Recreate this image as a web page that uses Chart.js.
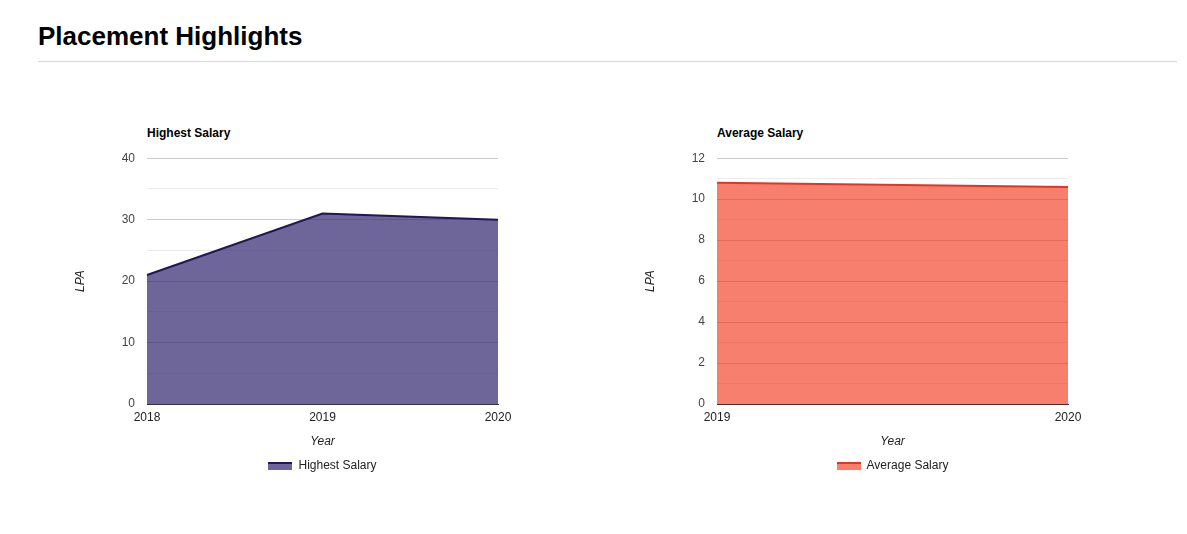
<!DOCTYPE html>
<html>
<head>
<meta charset="utf-8">
<script src="https://cdn.jsdelivr.net/npm/chart.js@4.4.1/dist/chart.umd.min.js"></script>
<style>
  html, body { margin: 0; padding: 0; background: #fff; width: 1187px; height: 534px; overflow: hidden; font-family: "Liberation Sans", Arial, sans-serif; }
  h1 { position: absolute; left: 38px; top: 21px; margin: 0; font-size: 26px; font-weight: bold; color: #000; }
  .hr { position: absolute; left: 38px; top: 61px; width: 1139px; height: 1px; background: #d9d6d6; }
  .ctitle { position: absolute; font-size: 12px; font-weight: bold; color: #000; }
  .wrap { position: absolute; width: 525px; height: 343px; }
</style>
</head>
<body>
<h1>Placement Highlights</h1>
<div class="hr"></div>
<div class="ctitle" style="left:147px; top:126px;">Highest Salary</div>
<div class="ctitle" style="left:717px; top:126px;">Average Salary</div>
<div class="wrap" style="left:60px; top:139px;"><canvas id="c1"></canvas></div>
<div class="wrap" style="left:630px; top:139px;"><canvas id="c2"></canvas></div>
<script>
const highestYears = ['2018', '2019', '2020'];
const highestSalary = [21, 31, 30];
const averageYears = ['2019', '2020'];
const averageSalary = [10.8, 10.6];

Chart.defaults.font.family = '"Liberation Sans", Arial, sans-serif';
Chart.defaults.color = '#222';

function legendIcon(lineColor, fillColor) {
  const c = document.createElement('canvas');
  c.width = 24; c.height = 8;
  const g = c.getContext('2d');
  g.fillStyle = fillColor;
  g.fillRect(0, 0, 24, 8);
  g.fillStyle = lineColor;
  g.fillRect(0, 0, 24, 2);
  return c;
}

function makeChart(id, labels, values, name, lineColor, fillColor, yMax, minorStep, majorStep) {
  new Chart(document.getElementById(id), {
    type: 'line',
    data: {
      labels: labels,
      datasets: [{
        label: name,
        data: values,
        borderColor: lineColor,
        backgroundColor: fillColor,
        fill: 'origin',
        borderWidth: 2,
        pointRadius: 0,
        pointStyle: legendIcon(lineColor, fillColor),
        tension: 0
      }]
    },
    options: {
      responsive: true,
      maintainAspectRatio: false,
      animation: false,
      layout: { padding: { top: 9, right: 0, left: 0, bottom: 0 } },
      plugins: {
        legend: {
          position: 'bottom',
          labels: { usePointStyle: true, pointStyleWidth: 24, font: { size: 12 }, color: '#222', padding: 11 }
        },
        title: { display: false },
        tooltip: { enabled: false }
      },
      scales: {
        x: {
          offset: false,
          grid: { display: false, drawTicks: false },
          border: { display: true, color: '#333', width: 1 },
          ticks: { font: { size: 12 }, color: '#222', padding: 6, maxRotation: 0 },
          title: { display: true, text: 'Year', font: { size: 12, style: 'italic' }, color: '#222', padding: { top: 6, bottom: 0 } },
          afterFit: s => { s.height = 45; }
        },
        y: {
          min: 0,
          max: yMax,
          ticks: {
            stepSize: minorStep,
            font: { size: 12 },
            color: '#444',
            padding: 12,
            callback: v => (Math.abs(v % majorStep) < 1e-9 ? String(v) : '')
          },
          grid: {
            drawTicks: false,
            color: ctx => {
              const v = ctx.tick.value;
              if (v === 0) return '#333';
              return Math.abs(v % majorStep) < 1e-9 ? '#cccccc' : '#ebebeb';
            }
          },
          border: { display: false },
          title: { display: true, text: 'LPA', font: { size: 12, style: 'italic' }, color: '#222', padding: { top: 13, bottom: 0 } },
          afterFit: s => { s.width = 87; }
        },
        yRight: {
          position: 'right',
          display: true,
          grid: { display: false, drawOnChartArea: false, drawTicks: false },
          border: { display: false },
          ticks: { display: false },
          afterFit: s => { s.width = 87; }
        }
      }
    }
  });
}

makeChart('c1', highestYears, highestSalary, 'Highest Salary', 'rgb(30,22,95)', 'rgba(48,36,109,0.7)', 40, 5, 10);
makeChart('c2', averageYears, averageSalary, 'Average Salary', 'rgb(235,50,30)', 'rgba(242,42,12,0.6)', 12, 1, 2);
</script>
</body>
</html>
